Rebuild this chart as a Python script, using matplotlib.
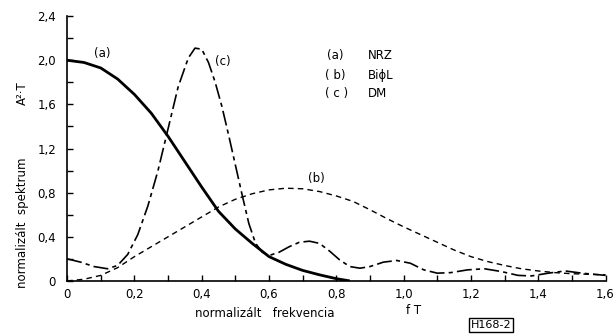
import matplotlib
matplotlib.use("Agg")
import matplotlib.pyplot as plt

# (a) NRZ
nrz_x = [0, 0.05, 0.1, 0.15, 0.2, 0.25, 0.3, 0.35, 0.4, 0.45, 0.5, 0.55, 0.6, 0.65, 0.7, 0.75, 0.8, 0.84]
nrz_y = [2.0, 1.98, 1.93, 1.83, 1.69, 1.52, 1.31, 1.08, 0.85, 0.63, 0.47, 0.34, 0.22, 0.15, 0.095, 0.055, 0.02, 0.0]

# (b) BiphiL
bil_x = [0, 0.05, 0.1, 0.15, 0.2, 0.25, 0.3, 0.35, 0.4, 0.45, 0.5, 0.55, 0.6, 0.65, 0.7, 0.75, 0.8,
         0.85, 0.9, 0.95, 1.0, 1.05, 1.1, 1.15, 1.2, 1.25, 1.3, 1.35, 1.4, 1.45, 1.5, 1.55, 1.6]
bil_y = [0.0, 0.015, 0.05, 0.12, 0.22, 0.31, 0.40, 0.49, 0.58, 0.67, 0.74, 0.79, 0.825, 0.84, 0.835, 0.81, 0.77,
         0.72, 0.645, 0.565, 0.49, 0.42, 0.35, 0.28, 0.22, 0.175, 0.14, 0.11, 0.09, 0.075, 0.065, 0.06, 0.055]

# (c) DM
dm_x = [0, 0.04, 0.08, 0.12, 0.15, 0.18, 0.21, 0.24, 0.27, 0.30, 0.33, 0.36, 0.38, 0.40, 0.42, 0.44, 0.46,
        0.48, 0.50, 0.52, 0.54, 0.56, 0.58, 0.60, 0.63, 0.66, 0.69, 0.72, 0.75, 0.78, 0.81, 0.84, 0.87,
        0.90, 0.94, 0.98, 1.02, 1.06, 1.10, 1.14, 1.19, 1.24, 1.29, 1.34, 1.38, 1.43, 1.48, 1.53, 1.6]
dm_y = [0.20, 0.17, 0.13, 0.11, 0.14, 0.24, 0.42, 0.68, 1.0, 1.38, 1.76, 2.02, 2.11, 2.10, 1.98, 1.80, 1.58,
        1.32, 1.05, 0.78, 0.52, 0.34, 0.26, 0.23, 0.26, 0.31, 0.35, 0.36, 0.34, 0.27, 0.19, 0.13, 0.115,
        0.13, 0.17, 0.185, 0.16, 0.10, 0.07, 0.075, 0.10, 0.11, 0.085, 0.05, 0.045, 0.07, 0.09, 0.07, 0.05]

xticks = [0, 0.2, 0.4, 0.6, 0.8, 1.0, 1.2, 1.4, 1.6]
xlabels = ["0", "0,2", "0,4", "0,6", "0,8", "1,0", "1,2", "1,4", "1,6"]
yticks = [0, 0.4, 0.8, 1.2, 1.6, 2.0, 2.4]
ylabels = ["0", "0,4", "0,8", "1,2", "1,6", "2,0", "2,4"]

fig = plt.figure(figsize=(6.16, 3.36), dpi=100)
ax = fig.add_axes([0.109, 0.164, 0.874, 0.788])

ax.plot(nrz_x, nrz_y, color="black", lw=2.0, solid_capstyle="butt")
ax.plot(bil_x, bil_y, color="black", lw=1.0, dashes=(4, 3))
ax.plot(dm_x, dm_y, color="black", lw=1.2, dashes=(9, 2.5, 2.5, 2.5))

ax.set_xlim(0, 1.6)
ax.set_ylim(0, 2.4)
ax.set_xticks(xticks)
ax.set_xticklabels(xlabels)
ax.set_yticks(yticks)
ax.set_yticklabels(ylabels)
ax.set_xticks([0.1 * i for i in range(17)], minor=True)
ax.set_yticks([0.2 * i for i in range(13)], minor=True)
ax.tick_params(which="both", direction="in", length=4, width=1, labelsize=8.5)
ax.tick_params(axis="x", pad=5)
ax.tick_params(axis="y", pad=8)
for s in ["top", "right"]:
    ax.spines[s].set_visible(False)
for s in ["left", "bottom"]:
    ax.spines[s].set_linewidth(1.2)

# curve labels
ax.text(0.105, 2.0, "(a)", fontsize=8.5, ha="center", va="bottom")
ax.text(0.462, 1.99, "(c)", fontsize=8.5, ha="center", va="center")
ax.text(0.74, 0.93, "(b)", fontsize=8.5, ha="center", va="center")

# key
ax.text(0.796, 2.045, "(a)", fontsize=8.5, ha="center", va="center")
ax.text(0.895, 2.045, "NRZ", fontsize=8.5, ha="left", va="center")
ax.text(0.796, 1.864, "( b)", fontsize=8.5, ha="center", va="center")
ax.text(0.895, 1.864, "BiϕL", fontsize=8.5, ha="left", va="center")
ax.text(0.80, 1.70, "( c )", fontsize=8.5, ha="center", va="center")
ax.text(0.895, 1.70, "DM", fontsize=8.5, ha="left", va="center")

fig.text(0.036, 0.336, "normalizált  spektrum", rotation=90, fontsize=8.5, ha="center", va="center")
fig.text(0.036, 0.723, "A²·T", rotation=90, fontsize=8.5, ha="center", va="center")
fig.text(0.429, 0.068, "normalizált   frekvencia", fontsize=8.5, ha="center", va="center")
fig.text(0.671, 0.077, "f T", fontsize=8.5, ha="center", va="center")
fig.text(0.797, 0.033, "H168-2", fontsize=8, ha="center", va="center",
         bbox=dict(boxstyle="square,pad=0.15", fc="white", ec="black", lw=1))

fig.savefig("out.png", dpi=100)
